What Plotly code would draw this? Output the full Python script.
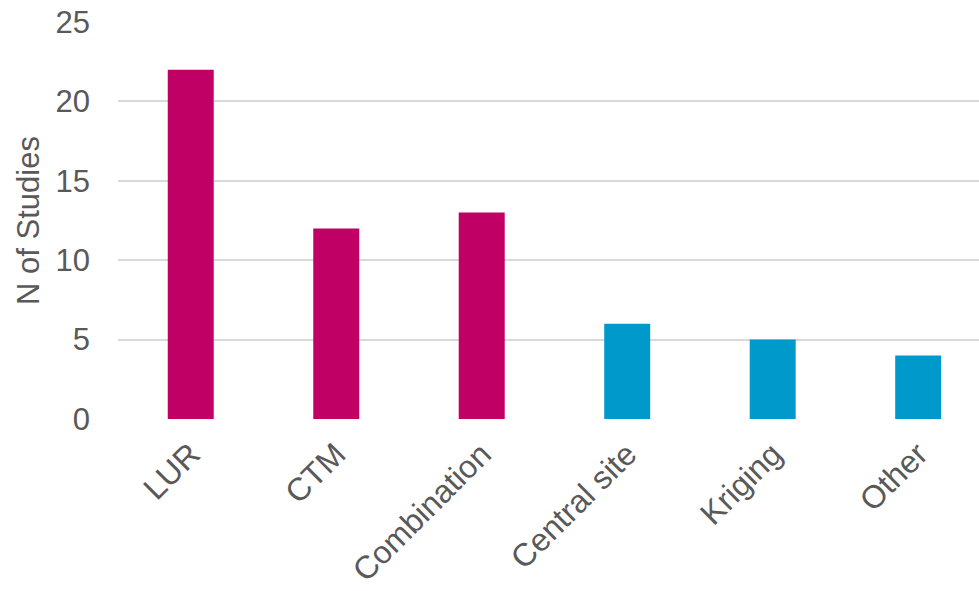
import plotly.graph_objects as go

categories = ["LUR", "CTM", "Combination", "Central site", "Kriging", "Other"]
values = [22, 12, 13, 6, 5, 4]
colors = ["#C00064", "#C00064", "#C00064", "#0099CC", "#0099CC", "#0099CC"]
y_ticks = [0, 5, 10, 15, 20, 25]

font = "Liberation Sans, Arial, sans-serif"
gray = "#595959"

fig = go.Figure(go.Bar(x=categories, y=values, marker=dict(color=colors, line=dict(width=0)), width=0.316))

fig.update_layout(
    width=979, height=591,
    margin=dict(l=118, r=0, t=22, b=172),
    plot_bgcolor="white", paper_bgcolor="white",
    showlegend=False,
    font=dict(family=font, color=gray, size=31),
    xaxis=dict(range=[-0.5, 5.418], tickangle=-45, tickfont=dict(size=32, color=gray),
               showgrid=False, showline=False, ticks="", zeroline=False,
               ticklabelstandoff=9, automargin=False),
    yaxis=dict(range=[0, 25], tickvals=y_ticks, tickfont=dict(size=31, color=gray),
               showgrid=True, gridcolor="#D9D9D9", gridwidth=2, zeroline=False,
               ticks="", ticklen=0, ticklabelstandoff=27, automargin=False,
               title=dict(text="N of Studies", font=dict(size=31, color=gray), standoff=6)),
)

fig.write_html("out.html")
